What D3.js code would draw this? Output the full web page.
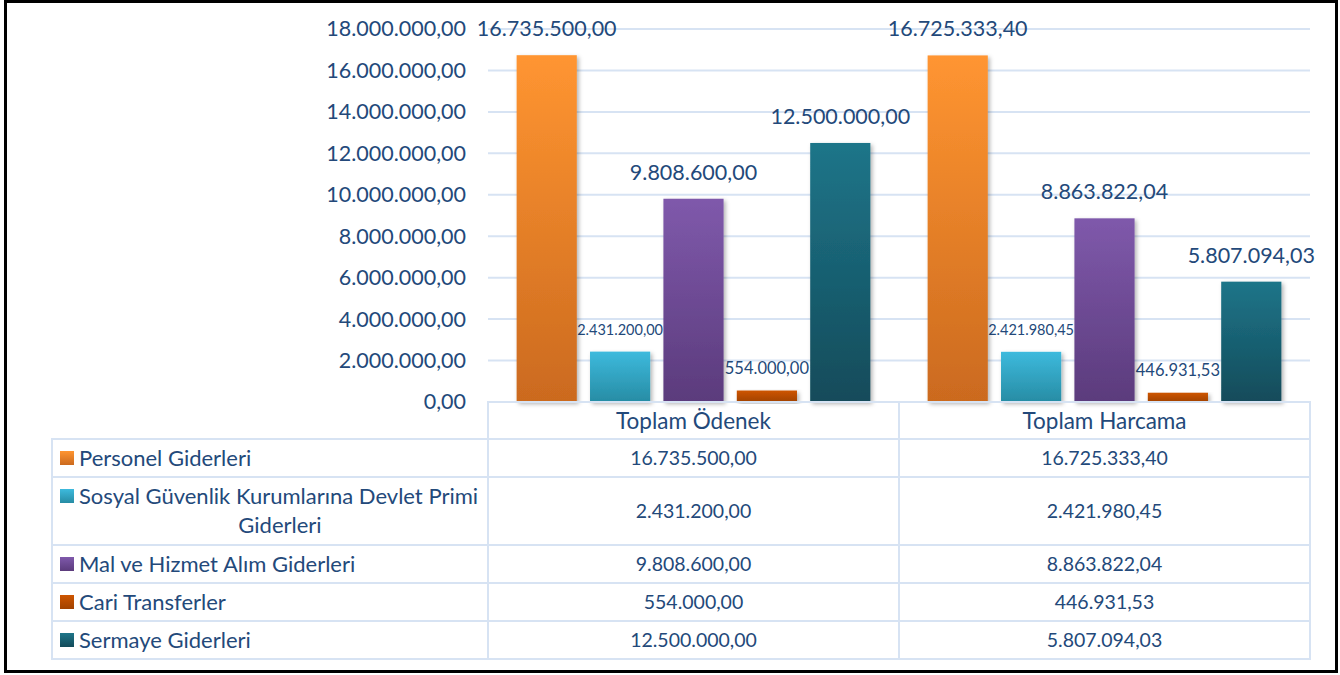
<!DOCTYPE html>
<html>
<head>
<meta charset="utf-8">
<script src="https://cdn.jsdelivr.net/npm/d3@7"></script>
<style>
  body { margin: 0; background: #fff; }
  svg { display: block; font-family: Lato, "Noto Sans", sans-serif; }
</style>
</head>
<body>
<svg id="chart" width="1340" height="675"></svg>
<script>
// data
var categories = ["Toplam Ödenek", "Toplam Harcama"];
var seriesNames = [
  "Personel Giderleri",
  "Sosyal Güvenlik Kurumlarına Devlet Primi Giderleri",
  "Mal ve Hizmet Alım Giderleri",
  "Cari Transferler",
  "Sermaye Giderleri"
];
var personel = [16735500.00, 16725333.40];
var sosyal = [2431200.00, 2421980.45];
var malHizmet = [9808600.00, 8863822.04];
var cari = [554000.00, 446931.53];
var sermaye = [12500000.00, 5807094.03];
var yTicks = [0, 2000000, 4000000, 6000000, 8000000, 10000000, 12000000, 14000000, 16000000, 18000000];

var seriesValues = [personel, sosyal, malHizmet, cari, sermaye];
// gradient colours top -> bottom
var colors = [
  ["#FF9531", "#CB6A1F"],
  ["#3DBADD", "#278CA4"],
  ["#7F59AB", "#5B3B7C"],
  ["#CE5500", "#A14200"],
  ["#1E7589", "#134B5A"]
];
// label font size per series (Excel shrank the two small ones)
var labelSizes = [21.5, 14.5, 21.5, 16.5, 21.5];

var tr = d3.formatLocale({decimal: ",", thousands: ".", grouping: [3], currency: ["", ""]});
var fmt = tr.format(",.2f");
var textColor = "#23497A";
var gridColor = "#D7E3F3";

var svg = d3.select("#chart");
var defs = svg.append("defs");

colors.forEach(function(c, i) {
  var g = defs.append("linearGradient")
      .attr("id", "grad" + i)
      .attr("x1", 0).attr("y1", 0).attr("x2", 0).attr("y2", 1);
  g.append("stop").attr("offset", "0%").attr("stop-color", c[0]);
  g.append("stop").attr("offset", "100%").attr("stop-color", c[1]);
});

var shadow = defs.append("filter").attr("id", "shadow")
    .attr("x", "-20%").attr("y", "-5%").attr("width", "150%").attr("height", "115%");
shadow.append("feDropShadow")
    .attr("dx", 2).attr("dy", 2).attr("stdDeviation", 2)
    .attr("flood-color", "#000").attr("flood-opacity", 0.3);

// scales
var plotLeft = 488, plotRight = 1310, plotTop = 29, plotBottom = 402;
var x0 = d3.scaleBand().domain(categories).range([plotLeft, plotRight]).padding(0);
var x1 = d3.scaleBand().domain(d3.range(seriesNames.length))
    .range([0, x0.bandwidth()]).paddingInner(0.18).paddingOuter(0.39);
var y = d3.scaleLinear().domain([0, 18000000]).range([plotBottom, plotTop]);

// grid lines
svg.append("g")
  .selectAll("line")
  .data(yTicks.slice(1))
  .enter().append("line")
    .attr("x1", plotLeft).attr("x2", plotRight)
    .attr("y1", function(d) { return y(d); })
    .attr("y2", function(d) { return y(d); })
    .attr("stroke", gridColor).attr("stroke-width", 2);

// y axis
var yAxis = svg.append("g")
    .attr("transform", "translate(" + (plotLeft - 22) + ",0)")
    .call(d3.axisLeft(y).tickValues(yTicks).tickFormat(fmt).tickSize(0).tickPadding(0));
yAxis.select(".domain").remove();
yAxis.selectAll("text")
    .attr("fill", textColor)
    .style("font-size", "21.5px")
    .style("font-family", "Lato, sans-serif");

// data labels (drawn before bars, small labels go behind neighbour bars)
var labels = [];
seriesValues.forEach(function(vals, si) {
  vals.forEach(function(v, ci) {
    labels.push({s: si, c: ci, v: v});
  });
});

svg.append("g")
  .selectAll("text")
  .data(labels)
  .enter().append("text")
    .attr("x", function(d) { return x0(categories[d.c]) + x1(d.s) + x1.bandwidth() / 2; })
    .attr("y", function(d) { return y(d.v) - (labelSizes[d.s] < 20 ? 17 : 19); })
    .attr("text-anchor", "middle")
    .attr("fill", textColor)
    .style("font-size", function(d) { return labelSizes[d.s] + "px"; })
    .text(function(d) { return fmt(d.v); });

// bars
svg.append("g")
  .selectAll("rect")
  .data(labels)
  .enter().append("rect")
    .attr("x", function(d) { return x0(categories[d.c]) + x1(d.s); })
    .attr("y", function(d) { return y(d.v); })
    .attr("width", x1.bandwidth())
    .attr("height", function(d) { return y(0) - y(d.v); })
    .attr("fill", function(d) { return "url(#grad" + d.s + ")"; })
    .attr("filter", "url(#shadow)");

// data table
var tableLeft = 52;
var rowEdges = [439, 477, 545, 583, 621, 659];
var table = svg.append("g");

// header row
table.append("rect")
    .attr("x", plotLeft).attr("y", plotBottom)
    .attr("width", plotRight - plotLeft).attr("height", rowEdges[0] - plotBottom)
    .attr("fill", "none").attr("stroke", gridColor).attr("stroke-width", 2);
table.selectAll(".cat")
  .data(categories)
  .enter().append("text")
    .attr("x", function(d) { return x0(d) + x0.bandwidth() / 2; })
    .attr("y", (plotBottom + rowEdges[0]) / 2 + 8)
    .attr("text-anchor", "middle")
    .attr("fill", textColor)
    .style("font-size", "22.5px")
    .text(function(d) { return d; });

// body rows
table.append("rect")
    .attr("x", tableLeft).attr("y", rowEdges[0])
    .attr("width", plotRight - tableLeft).attr("height", rowEdges[5] - rowEdges[0])
    .attr("fill", "none").attr("stroke", gridColor).attr("stroke-width", 2);
table.selectAll(".hl")
  .data(rowEdges.slice(1, 5))
  .enter().append("line")
    .attr("x1", tableLeft).attr("x2", plotRight)
    .attr("y1", function(d) { return d; }).attr("y2", function(d) { return d; })
    .attr("stroke", gridColor).attr("stroke-width", 2);
table.selectAll(".vl")
  .data([plotLeft, x0(categories[1])])
  .enter().append("line")
    .attr("x1", function(d) { return d; }).attr("x2", function(d) { return d; })
    .attr("y1", plotBottom).attr("y2", rowEdges[5])
    .attr("stroke", gridColor).attr("stroke-width", 2);

seriesNames.forEach(function(name, si) {
  var top = rowEdges[si], bottom = rowEdges[si + 1];
  var mid = (top + bottom) / 2;
  var twoLine = si === 1;
  var firstY = twoLine ? top + 19 : mid;

  table.append("rect")
      .attr("x", 60).attr("y", firstY - 7)
      .attr("width", 14).attr("height", 14)
      .attr("fill", "url(#grad" + si + ")");

  if (twoLine) {
    table.append("text")
        .attr("x", 79).attr("y", firstY + 8)
        .attr("fill", textColor).style("font-size", "22px")
        .text("Sosyal Güvenlik Kurumlarına Devlet Primi");
    table.append("text")
        .attr("x", 280).attr("y", firstY + 37)
        .attr("text-anchor", "middle")
        .attr("fill", textColor).style("font-size", "22px")
        .text("Giderleri");
  } else {
    table.append("text")
        .attr("x", 79).attr("y", mid + 8)
        .attr("fill", textColor).style("font-size", "22px")
        .text(name);
  }

  seriesValues[si].forEach(function(v, ci) {
    table.append("text")
        .attr("x", x0(categories[ci]) + x0.bandwidth() / 2)
        .attr("y", mid + 7)
        .attr("text-anchor", "middle")
        .attr("fill", textColor).style("font-size", "19.5px")
        .text(fmt(v));
  });
});

// outer frame
svg.append("rect")
    .attr("x", 5.5).attr("y", 1.5)
    .attr("width", 1331).attr("height", 670)
    .attr("fill", "none").attr("stroke", "#000").attr("stroke-width", 3);
</script>
</body>
</html>
